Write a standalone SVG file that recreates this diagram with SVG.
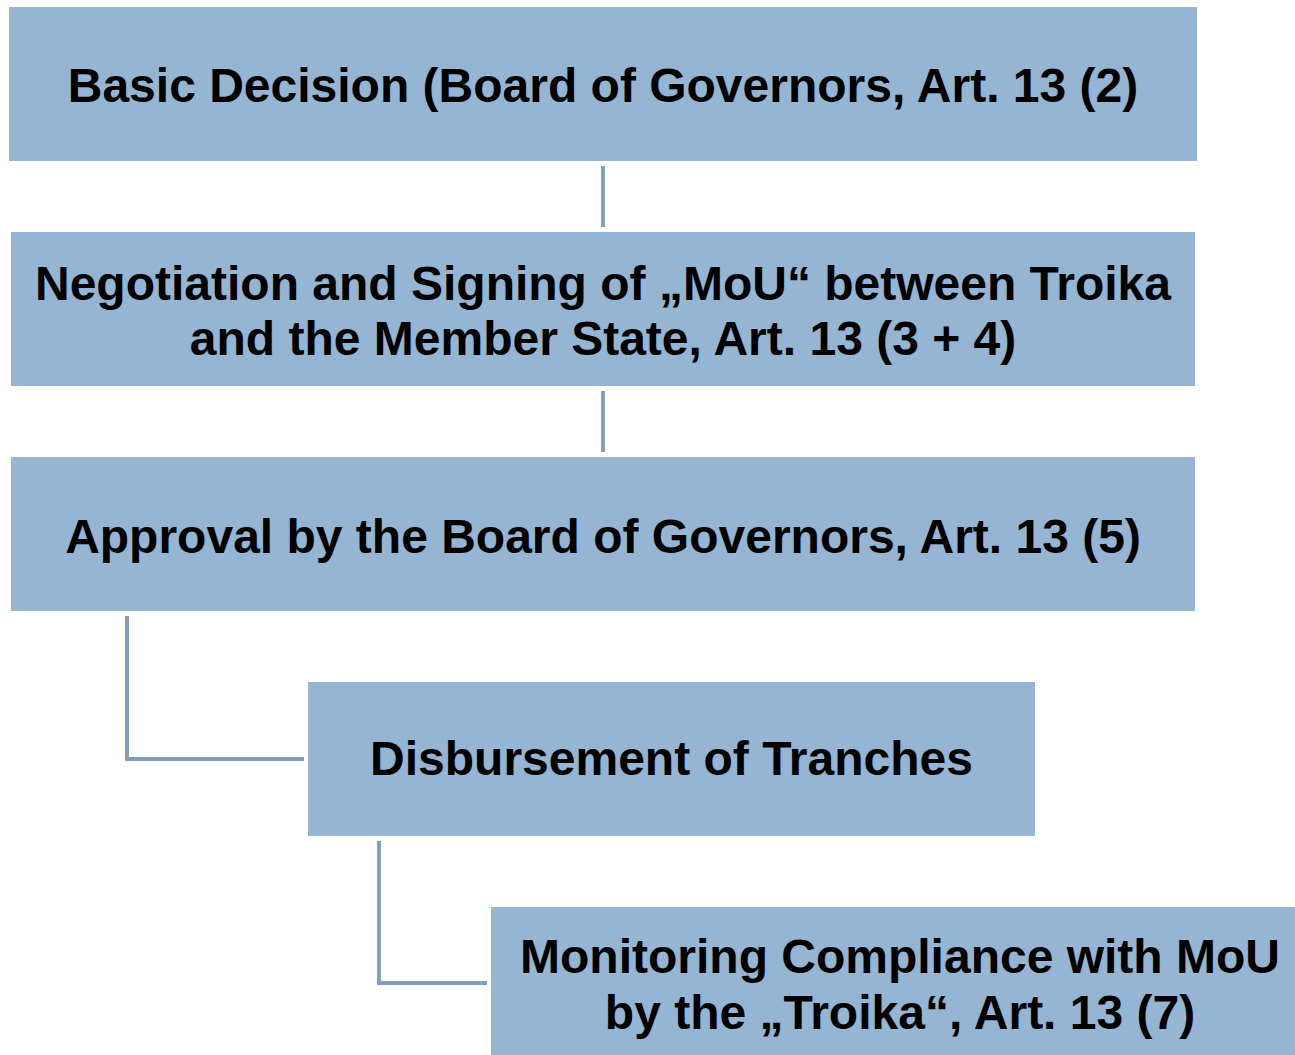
<svg xmlns="http://www.w3.org/2000/svg" width="1295" height="1055" viewBox="0 0 1295 1055">
<style>
.box{fill:#95b5d3;}
.t{font-family:"Liberation Sans",Arial,sans-serif;font-weight:bold;font-size:48px;fill:#000;text-anchor:middle;}
.c{fill:none;stroke:#82a0bd;stroke-width:4;}
</style>
<rect width="1295" height="1055" fill="#fff"/>
<g id="connectors">
<line class="c" x1="603" y1="166" x2="603" y2="227"/>
<line class="c" x1="603" y1="391" x2="603" y2="452"/>
<polyline class="c" points="127,616 127,759 304,759"/>
<polyline class="c" points="379,841 379,983 487,983"/>
</g>
<g id="n1">
<rect class="box" x="9" y="7" width="1188" height="154"/>
<text class="t" x="603" y="102">Basic Decision (Board of Governors, Art. 13 (2)</text>
</g>
<g id="n2">
<rect class="box" x="11" y="232" width="1184" height="154"/>
<text class="t" x="603" y="300">Negotiation and Signing of „MoU“ between Troika</text>
<text class="t" x="603" y="355">and the Member State, Art. 13 (3 + 4)</text>
</g>
<g id="n3">
<rect class="box" x="11" y="457" width="1184" height="154"/>
<text class="t" x="603" y="553">Approval by the Board of Governors, Art. 13 (5)</text>
</g>
<g id="n4">
<rect class="box" x="308" y="682" width="727" height="154"/>
<text class="t" x="671.5" y="775">Disbursement of Tranches</text>
</g>
<g id="n5">
<rect class="box" x="491" y="907" width="818" height="154"/>
<text class="t" x="900" y="973">Monitoring Compliance with MoU</text>
<text class="t" x="900" y="1029">by the „Troika“, Art. 13 (7)</text>
</g>
</svg>
